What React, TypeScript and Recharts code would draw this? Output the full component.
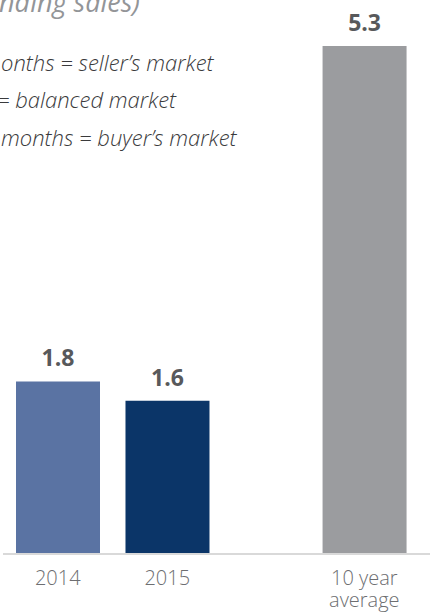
import { BarChart, Bar, XAxis, YAxis, Cell, LabelList } from 'recharts'

// months of inventory
const categories = ['2014', '2015', '10 year average']
const positions = [0, 1, 2.8]
const values = [1.8, 1.6, 5.3]
const barColors = ['#5a73a3', '#0b3568', '#9b9c9f']
const tickLabels: string[][] = [['2014'], ['2015'], ['10 year', 'average']]

const data = categories.map((name, i) => ({ name, pos: positions[i], value: values[i] }))

const FONT = '"Open Sans", sans-serif'

function Tick(props: any) {
  const { x, y, payload } = props
  const i = positions.indexOf(payload.value)
  const lines = i >= 0 ? tickLabels[i] : []
  return (
    <text x={x} y={y} textAnchor="middle" fill="#6d6e71" fontSize={20} fontFamily={FONT} fontWeight={300}>
      {lines.map((l, k) => (
        <tspan key={k} x={x} y={y + 31 + k * 22}>
          {l}
        </tspan>
      ))}
    </text>
  )
}

export default function App() {
  return (
    <div style={{ position: 'absolute', left: 0, top: 0, width: 430, height: 614, overflow: 'hidden', background: '#fff' }}>
      <BarChart width={430} height={614} data={data} margin={{ top: 0, right: 0, bottom: 0, left: 3 }}>
        <XAxis
          dataKey="pos"
          type="number"
          domain={[-0.5, 3.4]}
          ticks={positions}
          interval={0}
          tick={<Tick />}
          tickLine={false}
          tickSize={0}
          tickMargin={0}
          height={60}
          axisLine={{ stroke: '#d9d9d9', strokeWidth: 2 }}
        />
        <YAxis hide domain={[0, 5.78]} />
        <Bar dataKey="value" barSize={84} isAnimationActive={false}>
          {data.map((d, i) => (
            <Cell key={d.name} fill={barColors[i]} />
          ))}
          <LabelList
            dataKey="value"
            position="top"
            offset={15}
            fill="#58595b"
            fontSize={23}
            fontWeight={700}
            fontFamily={FONT}
            formatter={(v: any) => Number(v).toFixed(1)}
          />
        </Bar>
        <text x={-1} y={12} textAnchor="end" fill="#939598" fontSize={27} fontStyle="italic" fontFamily={FONT}>
          (based on pe
        </text>
        <text x={-1} y={12} fill="#939598" fontSize={27} fontStyle="italic" fontFamily={FONT}>
          nding sales)
        </text>
        <g fill="#3a3a3c" fontSize={22} fontStyle="italic" fontWeight={300} fontFamily={FONT}>
          <text x={-2} y={71} textAnchor="end">Less than 4 m</text>
          <text x={1} y={71}>onths = seller’s market</text>
          <text x={-3} y={108} textAnchor="end">4 to 6 months </text>
          <text x={-3} y={108}>= balanced market</text>
          <text x={-4} y={146} textAnchor="end">More than 6</text>
          <text x={1} y={146}>months = buyer’s market</text>
        </g>
      </BarChart>
    </div>
  )
}
